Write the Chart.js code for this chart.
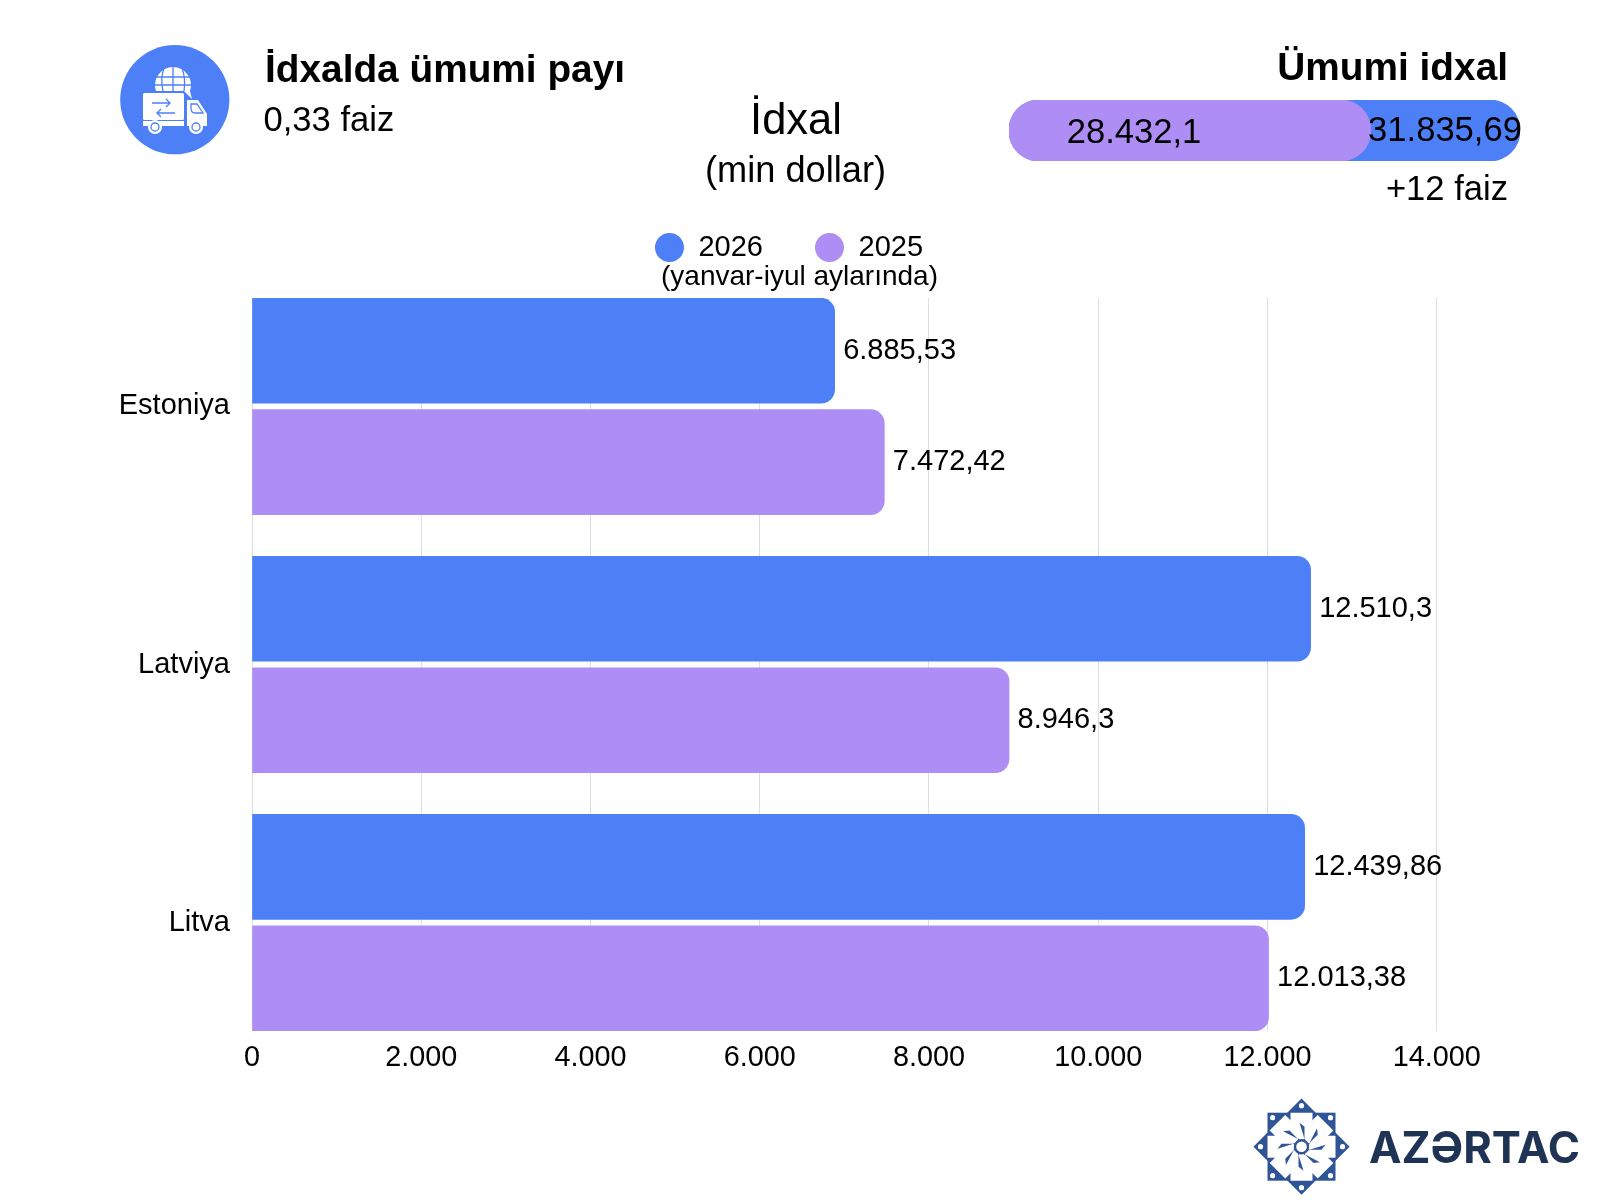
<!DOCTYPE html>
<html>
<head>
<meta charset="utf-8">
<script src="https://cdn.jsdelivr.net/npm/chart.js@4"></script>
<style>
  body { margin: 0; background: #fff; }
  #page { position: relative; width: 1600px; height: 1200px; overflow: hidden; font-family: "Liberation Sans", Arial, sans-serif; color: #000; }
  #page > canvas, #page > svg { position: absolute; }
  .t { position: absolute; line-height: 1; white-space: nowrap; }
  .c { transform: translateX(-50%); }
  .b { font-weight: 700; }
</style>
</head>
<body>
<div id="page">
  <canvas id="mainChart" width="1600" height="1200" style="left:0;top:0"></canvas>
  <canvas id="totalChart" width="511" height="61" style="left:1009px;top:100px"></canvas>

  <!-- truck + globe icon -->
  <svg width="1600" height="1200" style="left:0;top:0">
    <circle cx="174.8" cy="99.7" r="54.6" fill="#4d80f7"/>
    <g fill="#fff">
      <path d="M156 91 A18 18 0 1 1 190 91 L192 99 L184 91 Z"/>
      <rect x="143" y="93" width="41" height="27" rx="1.5"/>
      <rect x="143" y="121" width="41" height="5"/>
      <path d="M187 100 H198 L207 114 V126 H187 Z"/>
      <circle cx="155" cy="127" r="7"/>
      <circle cx="196" cy="127" r="7"/>
    </g>
    <g fill="none" stroke="#4d80f7" stroke-width="1.3">
      <path d="M156 77 H191 M154 85 H193 M173 66 V91 M164 68 Q160 79 163 91 M182 68 Q186 79 184 91"/>
      <path d="M152 103 H170 M166 99 L170 103 L166 107 M175 113 H157 M161 109 L157 113 L161 117"/>
      <path d="M191 104 H197 L203 113 H195 Q191 113 191 108 Z"/>
      <circle cx="155" cy="127" r="4"/>
      <circle cx="196" cy="127" r="4"/>
    </g>
    <circle cx="155" cy="127" r="1.6" fill="#fff"/>
    <circle cx="196" cy="127" r="1.6" fill="#fff"/>

    <!-- AZERTAC logo -->
    <g transform="translate(1301.5 1146.7)">
      <g fill="#2f5597">
        <rect x="-34" y="-34" width="68" height="68"/>
        <rect x="-34" y="-34" width="68" height="68" transform="rotate(45)"/>
      </g>
      <g fill="#fff">
        <path d="M-11 -34 H11 V-16 L0 -5 L-11 -16 Z"/>
        <path d="M-11 -34 H11 V-16 L0 -5 L-11 -16 Z" transform="rotate(45)"/>
        <path d="M-11 -34 H11 V-16 L0 -5 L-11 -16 Z" transform="rotate(90)"/>
        <path d="M-11 -34 H11 V-16 L0 -5 L-11 -16 Z" transform="rotate(135)"/>
        <path d="M-11 -34 H11 V-16 L0 -5 L-11 -16 Z" transform="rotate(180)"/>
        <path d="M-11 -34 H11 V-16 L0 -5 L-11 -16 Z" transform="rotate(225)"/>
        <path d="M-11 -34 H11 V-16 L0 -5 L-11 -16 Z" transform="rotate(270)"/>
        <path d="M-11 -34 H11 V-16 L0 -5 L-11 -16 Z" transform="rotate(315)"/>
        <circle cx="0" cy="-41" r="2.6"/>
        <circle cx="0" cy="41" r="2.6"/>
        <circle cx="-41" cy="0" r="2.6"/>
        <circle cx="41" cy="0" r="2.6"/>
        <circle cx="-29" cy="-29" r="2.6"/>
        <circle cx="29" cy="-29" r="2.6"/>
        <circle cx="-29" cy="29" r="2.6"/>
        <circle cx="29" cy="29" r="2.6"/>
      </g>
      <g fill="#2f5597">
        <path d="M-2 -24 L3 -20 L3 -8 Z"/>
        <path d="M-2 -24 L3 -20 L3 -8 Z" transform="rotate(90)"/>
        <path d="M-2 -24 L3 -20 L3 -8 Z" transform="rotate(180)"/>
        <path d="M-2 -24 L3 -20 L3 -8 Z" transform="rotate(270)"/>
        <path d="M-2 -24 L3 -20 L3 -8 Z" transform="rotate(45)"/>
        <path d="M-2 -24 L3 -20 L3 -8 Z" transform="rotate(135)"/>
        <path d="M-2 -24 L3 -20 L3 -8 Z" transform="rotate(225)"/>
        <path d="M-2 -24 L3 -20 L3 -8 Z" transform="rotate(315)"/>
      </g>
      <circle r="6.5" fill="#fff" stroke="#2f5597" stroke-width="2.4"/>
    </g>
  </svg>

  <div class="t b" style="left:265px;top:50px;font-size:38.8px">İdxalda ümumi payı</div>
  <div class="t" style="left:263.5px;top:102px;font-size:34.6px">0,33 faiz</div>
  <div class="t c" style="left:796px;top:98px;font-size:43.5px">İdxal</div>
  <div class="t c" style="left:795.5px;top:151.5px;font-size:36.2px">(min dollar)</div>
  <div class="t b" style="right:92px;top:48px;font-size:38.8px">Ümumi idxal</div>
  <div class="t c" id="total2025" style="left:1134px;top:114px;font-size:34.6px"></div>
  <div class="t c" id="total2026" style="left:1445px;top:111.5px;font-size:34.6px"></div>
  <div class="t" style="right:92px;top:171px;font-size:34.6px">+12 faiz</div>
  <div class="t c" style="left:799.5px;top:262px;font-size:28px">(yanvar-iyul aylarında)</div>
  <div class="t" style="left:1369px;top:1121px;font:700 43.6px Inter;color:#1f3354">AZƏRTAC</div>
</div>

<script>
const categories = ["Estoniya", "Latviya", "Litva"];
const values2026 = [6885.53, 12510.3, 12439.86];
const values2025 = [7472.42, 8946.3, 12013.38];
const labels2026 = ["6.885,53", "12.510,3", "12.439,86"];
const labels2025 = ["7.472,42", "8.946,3", "12.013,38"];
const xTickValues = [0, 2000, 4000, 6000, 8000, 10000, 12000, 14000];
const xTickLabels = ["0", "2.000", "4.000", "6.000", "8.000", "10.000", "12.000", "14.000"];
const totalValues = [28432.1, 31835.69];
const totalLabels = ["28.432,1", "31.835,69"];

const BLUE = "#4d80f7";
const PURPLE = "#ae8ef5";
const FONT = "Liberation Sans";

document.getElementById("total2025").textContent = totalLabels[0];
document.getElementById("total2026").textContent = totalLabels[1];

// value text at the end of every bar
const barValueLabels = {
  id: "barValueLabels",
  afterDatasetsDraw(chart) {
    const ctx = chart.ctx;
    ctx.save();
    ctx.fillStyle = "#000";
    ctx.font = "29px '" + FONT + "'";
    ctx.textBaseline = "middle";
    chart.data.datasets.forEach((ds, i) => {
      chart.getDatasetMeta(i).data.forEach((bar, j) => {
        ctx.fillText(ds.valueLabels[j], bar.x + 8.5, bar.y);
      });
    });
    ctx.restore();
  }
};

function toPoints(values) {
  return values.map((v, i) => ({ x: v, y: i }));
}

new Chart(document.getElementById("mainChart"), {
  type: "bar",
  data: {
    datasets: [
      { label: "2026", data: toPoints(values2026), valueLabels: labels2026, backgroundColor: BLUE },
      { label: "2025", data: toPoints(values2025), valueLabels: labels2025, backgroundColor: PURPLE }
    ]
  },
  plugins: [barValueLabels],
  options: {
    indexAxis: "y",
    responsive: false,
    animation: false,
    barThickness: 111.5,
    maxBarThickness: 105,
    elements: {
      bar: { borderRadius: { topRight: 14, bottomRight: 14 }, borderSkipped: false }
    },
    layout: { padding: { left: 0, right: 22, top: 181, bottom: 0 } },
    plugins: {
      tooltip: { enabled: false },
      legend: {
        position: "top",
        labels: {
          usePointStyle: true,
          pointStyle: "circle",
          boxWidth: 29,
          boxHeight: 20.5,
          padding: 52,
          color: "#000",
          font: { family: FONT, size: 29 }
        }
      }
    },
    scales: {
      x: {
        type: "linear",
        min: 0,
        max: 15670,
        position: "bottom",
        afterFit: axis => { axis.height = 169; },
        afterBuildTicks: axis => { axis.ticks = xTickValues.map(v => ({ value: v })); },
        grid: { color: "#dedede", lineWidth: 1, drawTicks: false },
        border: { display: false },
        ticks: {
          padding: 10,
          maxRotation: 0,
          autoSkip: false,
          color: "#000",
          font: { family: FONT, size: 28.8 },
          callback: (value, i) => xTickLabels[i]
        }
      },
      // empty axis, only keeps the gap under the legend
      gap: {
        type: "linear",
        position: "top",
        afterFit: axis => { axis.height = 26; },
        grid: { display: false },
        border: { display: false },
        ticks: { display: false }
      },
      y: {
        type: "linear",
        reverse: true,
        offset: false,
        min: -0.42,
        max: 2.42,
        afterFit: axis => { axis.width = 252; },
        afterBuildTicks: axis => { axis.ticks = categories.map((_, i) => ({ value: i })); },
        grid: { display: false, offset: false },
        border: { display: false },
        ticks: {
          padding: 14,
          autoSkip: false,
          color: "#000",
          font: { family: FONT, size: 29 },
          callback: value => categories[value]
        }
      }
    }
  }
});

// small pill on the top right, purple lies over blue
new Chart(document.getElementById("totalChart"), {
  type: "bar",
  data: {
    labels: ["Ümumi idxal"],
    datasets: [
      { data: [totalValues[0]], backgroundColor: PURPLE, grouped: false, base: 20180 },
      { data: [totalValues[1]], backgroundColor: BLUE, grouped: false, base: 20180 }
    ]
  },
  options: {
    indexAxis: "y",
    responsive: false,
    animation: false,
    barThickness: 61,
    elements: { bar: { borderRadius: 30, borderSkipped: false } },
    plugins: { legend: { display: false }, tooltip: { enabled: false } },
    scales: {
      x: { display: false, min: 20180, max: 31835.69 },
      y: { display: false }
    }
  }
});
</script>
</body>
</html>
